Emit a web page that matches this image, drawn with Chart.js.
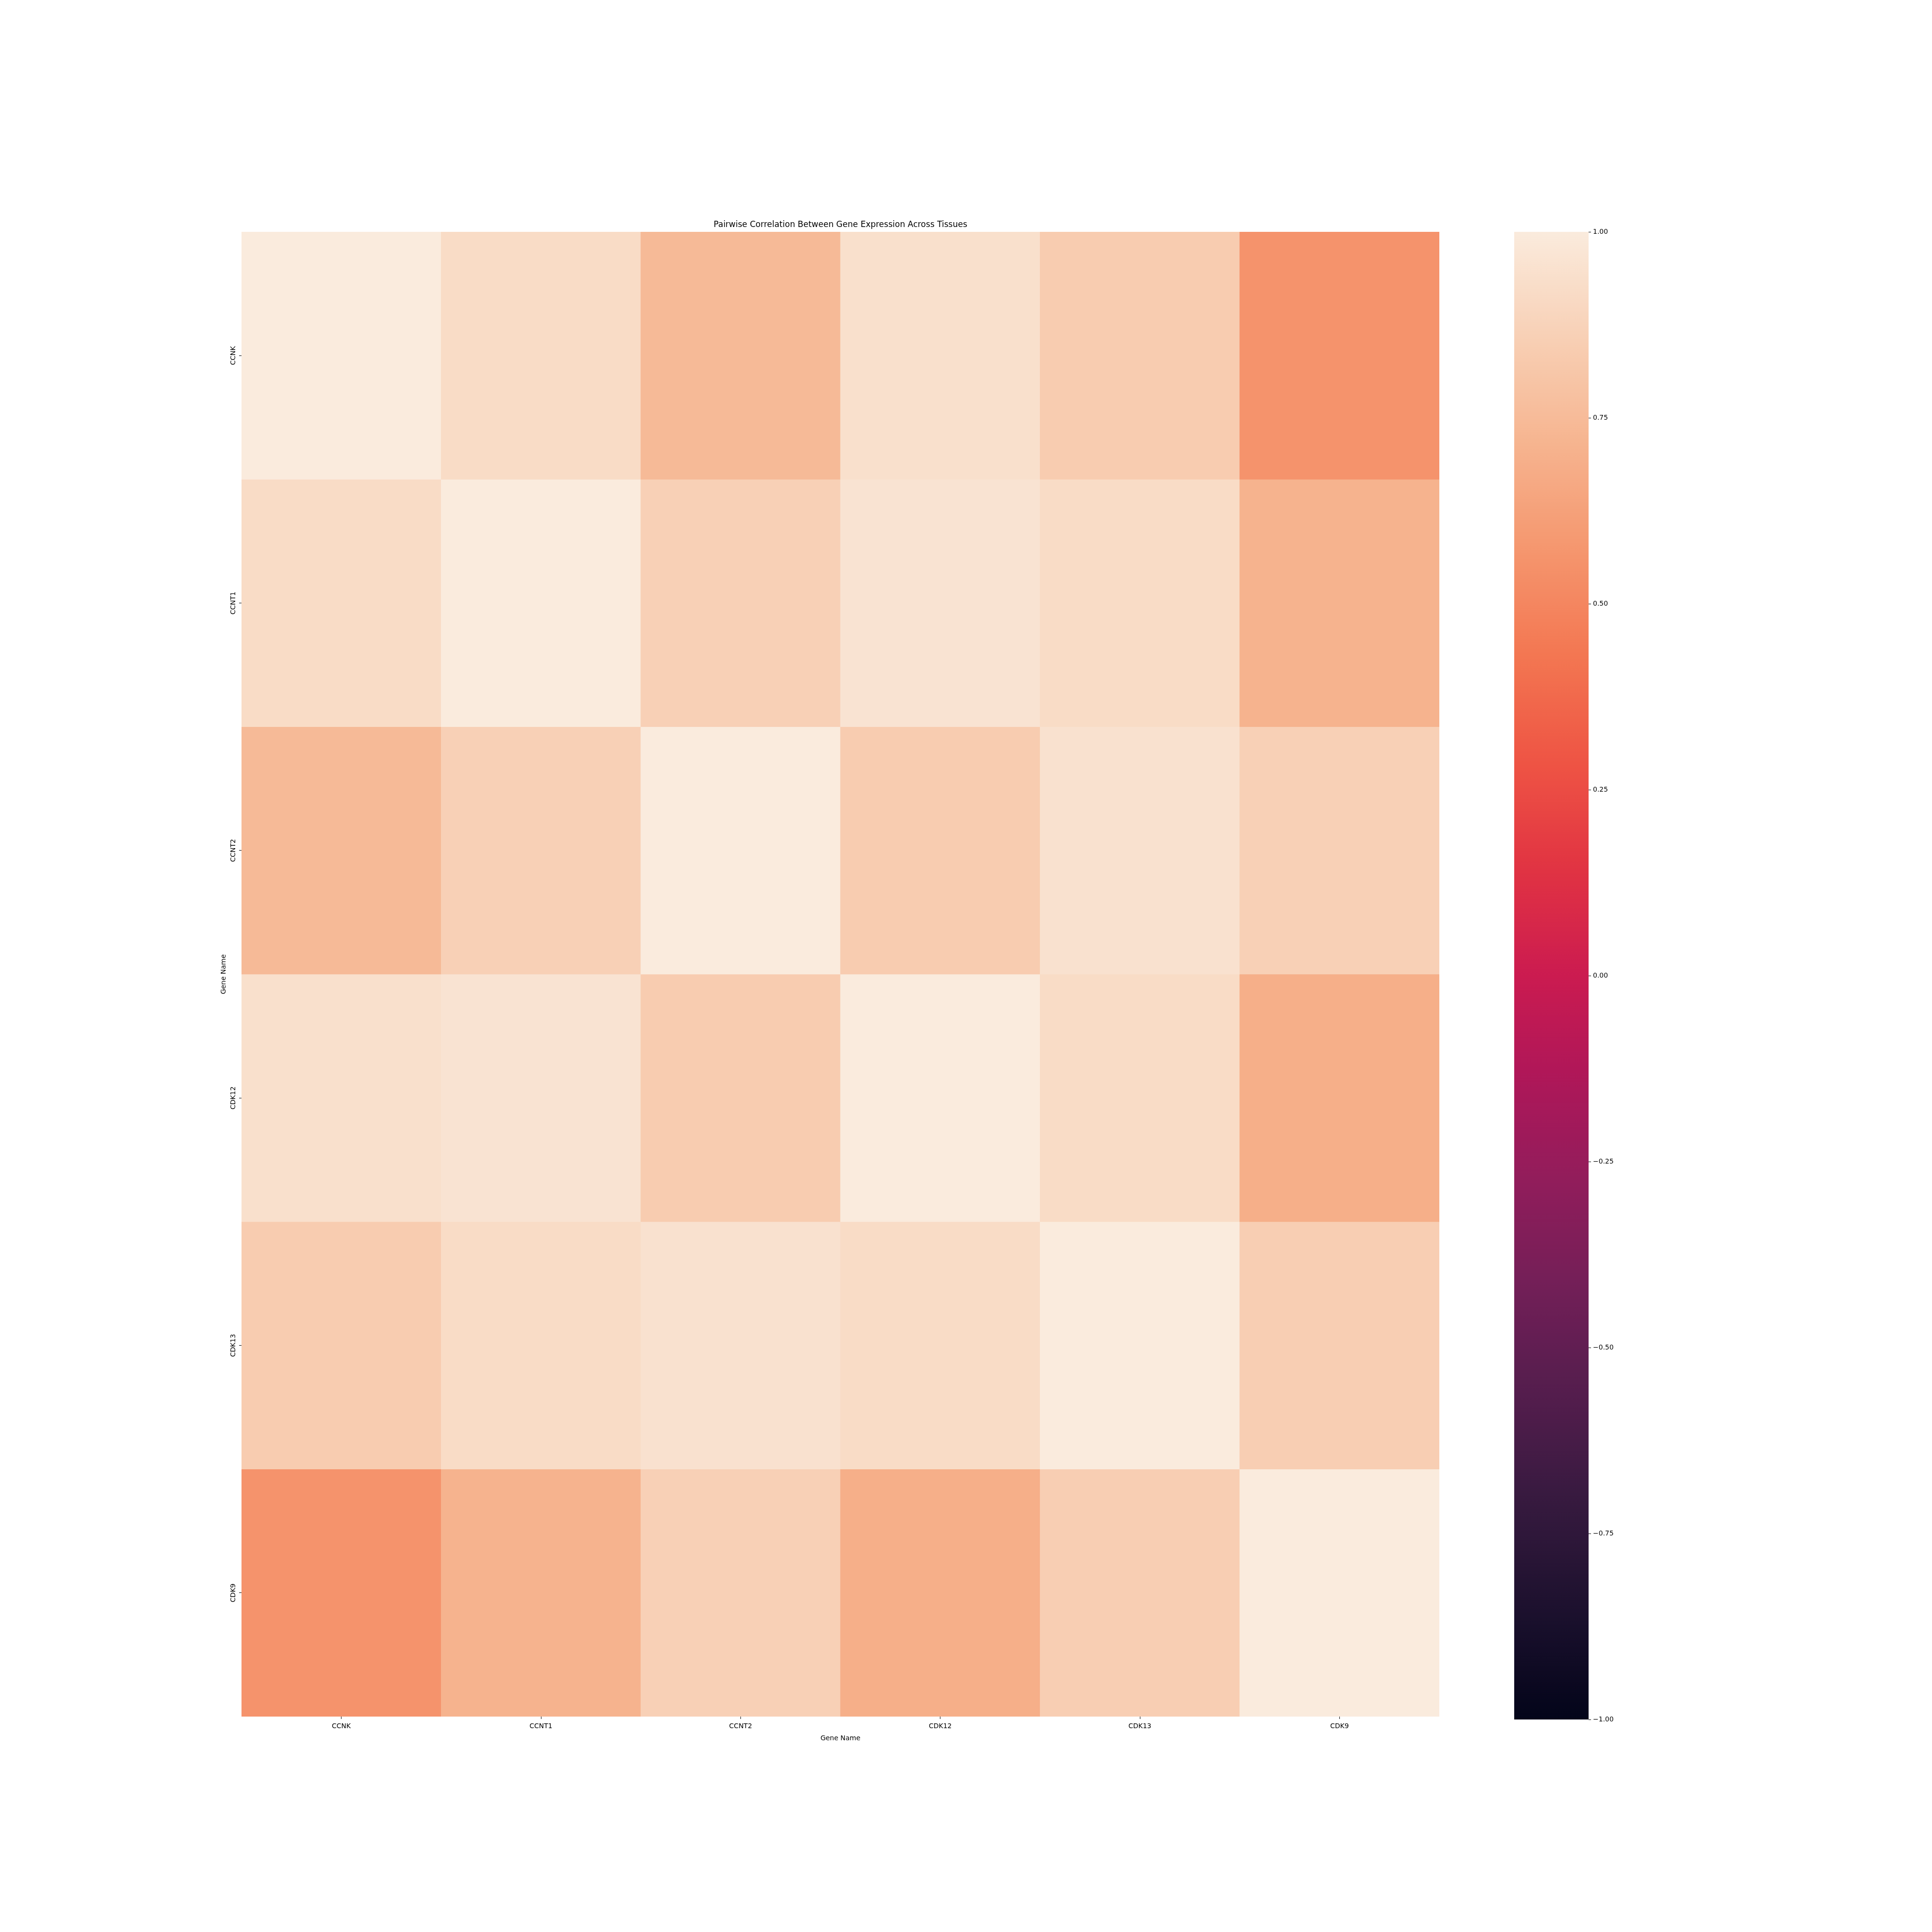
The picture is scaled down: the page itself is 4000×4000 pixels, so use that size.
<!DOCTYPE html>
<html>
<head>
<meta charset="utf-8">
<script src="https://cdn.jsdelivr.net/npm/chart.js@4.4.1/dist/chart.umd.min.js"></script>
<style>
html,body{margin:0;padding:0;background:#fff;width:4000px;height:4000px;overflow:hidden}
canvas{position:absolute;left:0;top:0}
</style>
</head>
<body>
<canvas id="heat" width="4000" height="4000"></canvas>
<canvas id="cbar" width="4000" height="4000"></canvas>
<script>
// ---- data ----
const genes = ['CCNK', 'CCNT1', 'CCNT2', 'CDK12', 'CDK13', 'CDK9'];
const corrCCNK  = [1.00, 0.92, 0.745, 0.94, 0.84, 0.56];
const corrCCNT1 = [0.92, 1.00, 0.86, 0.96, 0.92, 0.71];
const corrCCNT2 = [0.745, 0.86, 1.00, 0.84, 0.95, 0.86];
const corrCDK12 = [0.94, 0.96, 0.84, 1.00, 0.92, 0.69];
const corrCDK13 = [0.84, 0.92, 0.95, 0.92, 1.00, 0.85];
const corrCDK9  = [0.56, 0.71, 0.86, 0.69, 0.85, 1.00];
const matrix = [corrCCNK, corrCCNT1, corrCCNT2, corrCDK12, corrCDK13, corrCDK9];
const colorbarTicks = [-1.00, -0.75, -0.50, -0.25, 0.00, 0.25, 0.50, 0.75, 1.00];
const vmin = -1, vmax = 1;
const titleText = 'Pairwise Correlation Between Gene Expression Across Tissues';
const axisLabel = 'Gene Name';

// ---- rocket-like colormap ----
const rocketStops = [
  [0.000, [3, 5, 26]],
  [0.071, [27, 16, 45]],
  [0.143, [53, 25, 62]],
  [0.214, [82, 29, 76]],
  [0.286, [112, 31, 87]],
  [0.357, [143, 29, 91]],
  [0.429, [173, 23, 89]],
  [0.500, [203, 27, 80]],
  [0.571, [225, 51, 66]],
  [0.643, [238, 84, 68]],
  [0.714, [243, 118, 81]],
  [0.786, [245, 150, 110]],
  [0.857, [246, 180, 143]],
  [0.929, [248, 208, 181]],
  [1.000, [250, 235, 221]]
];
function rocket(t) {
  t = Math.max(0, Math.min(1, t));
  for (let i = 1; i < rocketStops.length; i++) {
    const [t1, c1] = rocketStops[i];
    const [t0, c0] = rocketStops[i - 1];
    if (t <= t1) {
      const f = (t - t0) / (t1 - t0);
      const c = c0.map((v, k) => Math.round(v + (c1[k] - v) * f));
      return 'rgb(' + c.join(',') + ')';
    }
  }
  return 'rgb(250,235,221)';
}
const norm = v => (v - vmin) / (vmax - vmin);

const FAMILY = "'DejaVu Sans', 'Liberation Sans', sans-serif";
Chart.defaults.font.family = FAMILY;
Chart.defaults.color = '#000';

// ---- heatmap ----
const textPlugin = {
  id: 'heatTexts',
  afterDraw(chart) {
    const s = chart.scales.y;
    const ca = chart.chartArea;
    const c = chart.ctx;
    c.save();
    c.fillStyle = '#000';
    // title centred over the heatmap
    c.font = '17px ' + FAMILY;
    c.textAlign = 'center';
    c.textBaseline = 'middle';
    c.fillText(titleText, (ca.left + ca.right) / 2, ca.top - 14);
    // rotated row labels
    c.font = '14px ' + FAMILY;
    genes.forEach((g, i) => {
      const y = s.getPixelForValue(i + 0.5);
      c.save();
      c.translate(ca.left - 17, y);
      c.rotate(-Math.PI / 2);
      c.fillText(g, 0, 0);
      c.restore();
    });
    c.restore();
  }
};

new Chart(document.getElementById('heat'), {
  type: 'bar',
  data: {
    labels: genes,
    datasets: matrix.map((row, r) => ({
      label: genes[r],
      data: row.map(() => [r, r + 1]),
      backgroundColor: row.map(v => rocket(norm(v))),
      borderWidth: 0,
      barPercentage: 1,
      categoryPercentage: 1,
      grouped: false
    }))
  },
  options: {
    responsive: false,
    animation: false,
    devicePixelRatio: 1,
    layout: { padding: { left: 453, right: 1020, top: 480, bottom: 390.4 } },
    plugins: {
      legend: { display: false },
      tooltip: { enabled: false },
      title: { display: false }
    },
    scales: {
      x: {
        type: 'category',
        offset: true,
        grid: { display: true, drawOnChartArea: false, drawTicks: true, tickLength: 5, color: '#000', offset: false },
        border: { display: false },
        ticks: { color: '#000', font: { size: 14 }, maxRotation: 0, minRotation: 0, autoSkip: false, padding: 7 },
        title: { display: true, text: axisLabel, color: '#000', font: { size: 14 }, padding: { top: 1, bottom: 2 } }
      },
      y: {
        type: 'linear',
        min: 0,
        max: genes.length,
        reverse: true,
        afterBuildTicks: s => { s.ticks = genes.map((g, i) => ({ value: i + 0.5 })); },
        afterFit: s => { s.width = 47; },
        grid: { display: true, drawOnChartArea: false, drawTicks: true, tickLength: 5, color: '#000' },
        border: { display: false },
        ticks: { display: false },
        title: { display: true, text: axisLabel, color: '#000', font: { size: 14 }, padding: { top: 2, bottom: 2 } }
      }
    }
  },
  plugins: [textPlugin]
});

// ---- colorbar ----
const fmt = v => (v < 0 ? '\u2212' : '') + Math.abs(v).toFixed(2);
new Chart(document.getElementById('cbar'), {
  type: 'bar',
  data: {
    labels: ['cb'],
    datasets: [{
      data: [[vmin, vmax]],
      backgroundColor: ctx => {
        const ca = ctx.chart.chartArea;
        if (!ca) return 'rgba(0,0,0,0)';
        const g = ctx.chart.ctx.createLinearGradient(0, ca.bottom, 0, ca.top);
        const n = 64;
        for (let i = 0; i <= n; i++) g.addColorStop(i / n, rocket(i / n));
        return g;
      },
      borderWidth: 0,
      barPercentage: 1,
      categoryPercentage: 1
    }]
  },
  options: {
    responsive: false,
    animation: false,
    devicePixelRatio: 1,
    layout: { padding: { left: 3135, right: 631, top: 480, bottom: 440 } },
    plugins: { legend: { display: false }, tooltip: { enabled: false }, title: { display: false } },
    scales: {
      x: { display: false },
      y: {
        position: 'right',
        min: vmin,
        max: vmax,
        afterBuildTicks: s => { s.ticks = colorbarTicks.map(v => ({ value: v })); },
        afterFit: s => { s.width = 80; },
        grid: { display: true, drawOnChartArea: false, drawTicks: true, tickLength: 5, color: '#000' },
        border: { display: false },
        ticks: { color: '#000', font: { size: 14 }, padding: 4, callback: v => fmt(v) }
      }
    }
  }
});
</script>
</body>
</html>
